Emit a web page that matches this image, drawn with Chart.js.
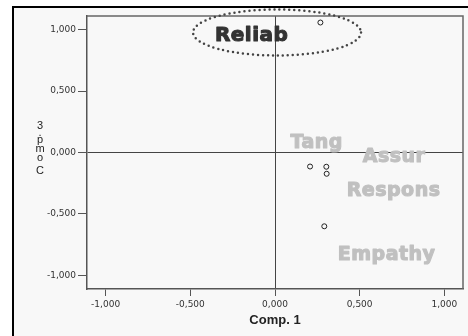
<!DOCTYPE html>
<html>
<head>
<meta charset="utf-8">
<script src="https://cdn.jsdelivr.net/npm/chart.js@4.4.1/dist/chart.umd.min.js"></script>
<style>
  body { margin: 0; background: #fff; }
  #wrap { width: 468px; height: 336px; }
</style>
</head>
<body>
<div id="wrap"><canvas id="myChart" width="468" height="336"></canvas></div>
<script>
// component loadings (Comp. 1 vs Comp. 3)
const comp1 = [0.268, 0.207, 0.303, 0.305, 0.291];
const comp3 = [1.057, -0.114, -0.116, -0.173, -0.600];
const tickValues = [-1, -0.5, 0, 0.5, 1];

const labelNames = ['Reliab', 'Tang', 'Assur', 'Respons', 'Empathy'];

function fmt(v) {
  return (v < 0 ? '-' : '') + Math.abs(v).toFixed(3).replace('.', ',');
}

const decor = {
  id: 'decor',
  beforeDraw(chart) {
    const ctx = chart.ctx;
    ctx.save();
    ctx.fillStyle = '#fff';
    ctx.fillRect(0, 0, chart.width, chart.height);
    ctx.fillStyle = '#f8f8f8';
    ctx.fillRect(13, 7, chart.width - 13, chart.height - 7);
    ctx.strokeStyle = '#000';
    ctx.lineWidth = 2;
    ctx.beginPath();
    ctx.moveTo(13, chart.height);
    ctx.lineTo(13, 7);
    ctx.lineTo(chart.width, 7);
    ctx.stroke();
    ctx.restore();
  },
  afterDraw(chart) {
    const ctx = chart.ctx;
    const a = chart.chartArea;
    const xs = chart.scales.x, ys = chart.scales.y;
    ctx.save();
    // top and right frame of the plot
    ctx.strokeStyle = '#666';
    ctx.lineWidth = 1.5;
    ctx.beginPath();
    ctx.moveTo(a.left, a.top);
    ctx.lineTo(a.right, a.top);
    ctx.lineTo(a.right, a.bottom);
    ctx.stroke();

    // variable labels (heavy weight faked with a stroke)
    const pos = [[-0.138, 0.95], [0.246, 0.08], [0.703, -0.04], [0.70, -0.31], [0.659, -0.83]];
    ctx.textAlign = 'center';
    ctx.textBaseline = 'middle';
    ctx.letterSpacing = '0.5px';
    ctx.lineJoin = 'round';
    labelNames.forEach(function(name, i) {
      const col = i === 0 ? '#333' : '#c0c0c0';
      ctx.fillStyle = col;
      ctx.strokeStyle = col;
      ctx.lineWidth = 1.1;
      ctx.font = (i === 0 ? 'bold 20px' : 'bold 19px') + ' "DejaVu Sans"';
      const px = xs.getPixelForValue(pos[i][0]), py = ys.getPixelForValue(pos[i][1]);
      ctx.fillText(name, px, py);
      ctx.strokeText(name, px, py);
    });

    // dotted ellipse around Reliab
    ctx.strokeStyle = '#444';
    ctx.lineWidth = 2.5;
    ctx.lineCap = 'round';
    ctx.setLineDash([0, 5]);
    ctx.beginPath();
    ctx.ellipse(xs.getPixelForValue(0.012), ys.getPixelForValue(0.976), 84, 23, 0, 0, Math.PI * 2);
    ctx.stroke();
    ctx.setLineDash([]);

    // y axis title, letters stacked
    ctx.letterSpacing = '0px';
    ctx.fillStyle = '#222';
    ctx.font = '11px "Liberation Sans"';
    const chars = ['3', '.', 'p', 'm', 'o', 'C'];
    const cy = [126, 133, 140, 149, 158, 171];
    chars.forEach(function(c, i) {
      ctx.fillText(c, 40, cy[i]);
    });
    ctx.restore();
  }
};

const config = {
  type: 'scatter',
  data: {
    datasets: [{
      data: comp1.map(function(x, i) { return {x: x, y: comp3[i]}; }),
      pointStyle: 'circle',
      pointRadius: 2.5,
      borderColor: '#222',
      borderWidth: 1,
      backgroundColor: 'rgba(0,0,0,0)'
    }]
  },
  options: {
    responsive: false,
    animation: false,
    layout: { padding: { left: 0, top: 16, right: 2, bottom: 0 } },
    plugins: { legend: { display: false }, tooltip: { enabled: false } },
    scales: {
      x: {
        type: 'linear',
        min: -1.11, max: 1.11,
        afterBuildTicks: function(s) { s.ticks = tickValues.map(function(v) { return {value: v}; }); },
        afterFit: function(s) { s.height = 47; },
        border: { color: '#555', width: 1.5 },
        grid: {
          color: function(c) { return c.tick && c.tick.value === 0 ? '#444' : 'rgba(0,0,0,0)'; },
          tickColor: '#555', tickLength: 7, lineWidth: 1
        },
        ticks: {
          padding: 3, color: '#333',
          font: { family: 'DejaVu Sans', size: 9 },
          callback: fmt
        },
        title: {
          display: true, text: 'Comp. 1', color: '#222',
          font: { family: 'Liberation Sans', size: 13, weight: 'bold' },
          padding: { top: 0, bottom: 8 }
        }
      },
      y: {
        type: 'linear',
        min: -1.11, max: 1.11,
        afterBuildTicks: function(s) { s.ticks = tickValues.map(function(v) { return {value: v}; }); },
        afterFit: function(s) { s.width = 87; },
        border: { color: '#555', width: 1.5 },
        grid: {
          color: function(c) { return c.tick && c.tick.value === 0 ? '#444' : 'rgba(0,0,0,0)'; },
          tickColor: '#555', tickLength: 9, lineWidth: 1
        },
        ticks: {
          padding: 2, color: '#333',
          font: { family: 'DejaVu Sans', size: 9 },
          callback: fmt
        }
      }
    }
  },
  plugins: [decor]
};

const myChart = new Chart(document.getElementById('myChart'), config);
</script>
</body>
</html>
